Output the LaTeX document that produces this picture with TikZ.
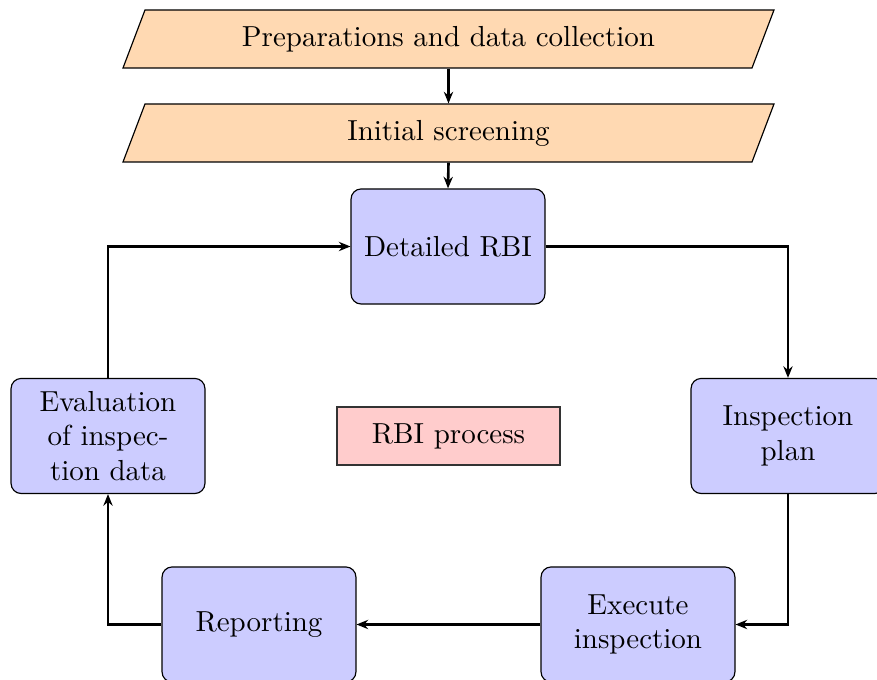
\documentclass[tikz,border=0pt]{standalone}
\usetikzlibrary{arrows.meta}
\begin{document}
\begin{tikzpicture}[x=0.345pt,y=-0.345pt,
  iobox/.style={fill=orange!30,draw=black},
  iolabel/.style={inner sep=0pt,minimum width=200pt,minimum height=20pt},
  stepbox/.style={draw=black,fill=blue!20,rounded corners=3.5pt,
    minimum width=66.9pt,minimum height=39.7pt,align=center,inner sep=2pt},
  tagbox/.style={draw=black!80,fill=red!20,minimum width=76.9pt,minimum height=20pt,inner sep=2pt},
  flow/.style={line width=0.9pt,-{Stealth[length=4pt,width=3.2pt]}}]
\useasboundingbox (0,0) rectangle (877,680);
\clip (0,0) rectangle (877,680);

% input stages drawn as parallelograms
\path[iobox] (145,10) -- (774,10) -- (752,68) -- (123,68) -- cycle;
\node[iolabel] (prep) at (448.5,39) {Preparations and data collection};
\path[iobox] (145,104) -- (774,104) -- (752,162) -- (123,162) -- cycle;
\node[iolabel] (screen) at (448.5,133) {Initial screening};

% RBI cycle
\node[stepbox] (rbi) at (448,246.5) {Detailed RBI};
\node[stepbox] (plan) at (788,436) {Inspection\\plan};
\node[stepbox] (exec) at (638,624.5) {Execute\\inspection};
\node[stepbox] (report) at (259,624.5) {Reporting};
\node[stepbox] (eval) at (108,436) {Evaluation\\of inspec-\\tion data};
\node[tagbox] (tag) at (448.5,436) {RBI process};

% connectors
\draw[flow] (prep.south) -- (screen.north);
\draw[flow] (screen.south) -- (rbi.north);
\draw[flow] (rbi.east) -| (plan.north);
\draw[flow] (plan.south) |- (exec.east);
\draw[flow] (exec.west) -- (report.east);
\draw[flow] (report.west) -| (eval.south);
\draw[flow] (eval.north) |- (rbi.west);
\end{tikzpicture}
\end{document}
